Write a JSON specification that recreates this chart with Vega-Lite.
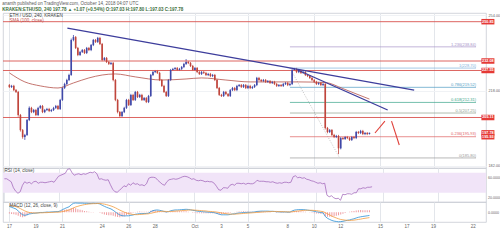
{
"$schema":"https://vega.github.io/schema/vega-lite/v6.json",
"background":"#ffffff",
"padding":{"left":2,"top":0,"right":0,"bottom":0},
"bounds":"flush",
"spacing":0,
"title":{"text":"ananth published on TradingView.com, October 14, 2018 04:07 UTC","subtitle":"KRAKEN:ETHUSD, 240  197.78 ▲ +1.07 (+0.54%) O:197.03 H:197.80 L:197.03 C:197.78","anchor":"start","fontSize":4.5,"fontWeight":"normal","color":"#5a5a5a","subtitleFontSize":4.5,"subtitleColor":"#3b6e3b","subtitleFontWeight":"bold","subtitlePadding":1.2,"offset":1.5},
"datasets":{
"ohlc":[
{"t":"2018-09-17T00:00:00Z","o":220.6,"h":221.1,"l":219.2,"c":219.7,"r":58,"m":3.5,"s":4.2,"hs":-0.7},
{"t":"2018-09-17T04:00:00Z","o":219.7,"h":220.7,"l":219.2,"c":220.2,"r":58,"m":3.0,"s":4.0,"hs":-1.0},
{"t":"2018-09-17T08:00:00Z","o":220.2,"h":220.7,"l":217.7,"c":218.2,"r":55,"m":2.5,"s":3.7,"hs":-1.2},
{"t":"2018-09-17T12:00:00Z","o":218.2,"h":218.7,"l":216.8,"c":217.3,"r":52,"m":2.0,"s":3.4,"hs":-1.4},
{"t":"2018-09-17T16:00:00Z","o":217.3,"h":217.8,"l":205.5,"c":206.3,"r":40,"m":0.8,"s":2.9,"hs":-2.1},
{"t":"2018-09-17T20:00:00Z","o":206.3,"h":206.8,"l":198.4,"c":199.1,"r":33,"m":-0.5,"s":2.2,"hs":-2.7},
{"t":"2018-09-18T00:00:00Z","o":199.1,"h":199.6,"l":195.0,"c":195.8,"r":29,"m":-1.5,"s":1.5,"hs":-3.0},
{"t":"2018-09-18T04:00:00Z","o":195.8,"h":197.3,"l":194.4,"c":196.8,"r":32,"m":-1.8,"s":0.8,"hs":-2.6},
{"t":"2018-09-18T08:00:00Z","o":196.8,"h":204.4,"l":196.3,"c":203.9,"r":45,"m":-1.5,"s":0.3,"hs":-1.8},
{"t":"2018-09-18T12:00:00Z","o":203.9,"h":210.4,"l":203.4,"c":209.7,"r":52,"m":-1.0,"s":-0.1,"hs":-0.9},
{"t":"2018-09-18T16:00:00Z","o":209.7,"h":210.2,"l":207.2,"c":207.7,"r":49,"m":-0.8,"s":-0.3,"hs":-0.5},
{"t":"2018-09-18T20:00:00Z","o":207.7,"h":209.2,"l":207.2,"c":208.7,"r":51,"m":-0.6,"s":-0.4,"hs":-0.2},
{"t":"2018-09-19T00:00:00Z","o":208.7,"h":209.2,"l":205.8,"c":206.3,"r":48,"m":-0.5,"s":-0.4,"hs":-0.1},
{"t":"2018-09-19T04:00:00Z","o":206.3,"h":210.2,"l":205.8,"c":209.7,"r":52,"m":-0.3,"s":-0.4,"hs":0.1},
{"t":"2018-09-19T08:00:00Z","o":209.7,"h":211.1,"l":209.2,"c":210.6,"r":53,"m":-0.1,"s":-0.3,"hs":0.2},
{"t":"2018-09-19T12:00:00Z","o":210.6,"h":211.1,"l":207.2,"c":207.7,"r":49,"m":-0.1,"s":-0.3,"hs":0.2},
{"t":"2018-09-19T16:00:00Z","o":207.7,"h":209.2,"l":207.2,"c":208.7,"r":51,"m":0.0,"s":-0.2,"hs":0.2},
{"t":"2018-09-19T20:00:00Z","o":208.7,"h":209.7,"l":208.2,"c":209.2,"r":51,"m":0.1,"s":-0.2,"hs":0.3},
{"t":"2018-09-20T00:00:00Z","o":209.2,"h":209.7,"l":207.7,"c":208.2,"r":50,"m":0.1,"s":-0.1,"hs":0.2},
{"t":"2018-09-20T04:00:00Z","o":208.2,"h":209.2,"l":207.7,"c":208.7,"r":51,"m":0.2,"s":-0.1,"hs":0.3},
{"t":"2018-09-20T08:00:00Z","o":208.7,"h":210.2,"l":208.2,"c":209.7,"r":52,"m":0.3,"s":0.0,"hs":0.3},
{"t":"2018-09-20T12:00:00Z","o":209.7,"h":211.1,"l":209.2,"c":210.6,"r":53,"m":0.4,"s":0.1,"hs":0.3},
{"t":"2018-09-20T16:00:00Z","o":210.6,"h":211.1,"l":208.7,"c":209.2,"r":51,"m":0.4,"s":0.1,"hs":0.3},
{"t":"2018-09-20T20:00:00Z","o":209.2,"h":214.0,"l":208.7,"c":213.5,"r":57,"m":0.8,"s":0.2,"hs":0.6},
{"t":"2018-09-21T00:00:00Z","o":213.5,"h":219.8,"l":213.0,"c":219.2,"r":63,"m":1.6,"s":0.4,"hs":1.2},
{"t":"2018-09-21T04:00:00Z","o":219.2,"h":221.7,"l":218.7,"c":221.1,"r":65,"m":2.2,"s":0.7,"hs":1.5},
{"t":"2018-09-21T08:00:00Z","o":221.1,"h":223.6,"l":220.6,"c":223.0,"r":67,"m":2.8,"s":1.0,"hs":1.8},
{"t":"2018-09-21T12:00:00Z","o":223.0,"h":226.0,"l":222.5,"c":225.4,"r":69,"m":3.3,"s":1.4,"hs":1.9},
{"t":"2018-09-21T16:00:00Z","o":225.4,"h":242.8,"l":225.0,"c":242.1,"r":77,"m":4.5,"s":2.0,"hs":2.5},
{"t":"2018-09-21T20:00:00Z","o":242.1,"h":244.5,"l":241.5,"c":243.5,"r":78,"m":5.4,"s":2.6,"hs":2.8},
{"t":"2018-09-22T00:00:00Z","o":243.5,"h":244.0,"l":237.8,"c":238.3,"r":70,"m":5.6,"s":3.2,"hs":2.4},
{"t":"2018-09-22T04:00:00Z","o":238.3,"h":238.8,"l":234.4,"c":235.0,"r":65,"m":5.5,"s":3.6,"hs":1.9},
{"t":"2018-09-22T08:00:00Z","o":235.0,"h":236.9,"l":234.5,"c":236.4,"r":67,"m":5.5,"s":4.0,"hs":1.5},
{"t":"2018-09-22T12:00:00Z","o":236.4,"h":237.8,"l":235.9,"c":237.3,"r":68,"m":5.5,"s":4.3,"hs":1.2},
{"t":"2018-09-22T16:00:00Z","o":237.3,"h":237.8,"l":235.4,"c":235.9,"r":66,"m":5.4,"s":4.6,"hs":0.8},
{"t":"2018-09-22T20:00:00Z","o":235.9,"h":238.8,"l":235.4,"c":238.3,"r":68,"m":5.4,"s":4.8,"hs":0.6},
{"t":"2018-09-23T00:00:00Z","o":238.3,"h":238.8,"l":236.8,"c":237.3,"r":67,"m":5.3,"s":5.0,"hs":0.3},
{"t":"2018-09-23T04:00:00Z","o":237.3,"h":240.2,"l":236.8,"c":239.7,"r":69,"m":5.3,"s":5.1,"hs":0.2},
{"t":"2018-09-23T08:00:00Z","o":239.7,"h":242.6,"l":239.2,"c":242.1,"r":71,"m":5.4,"s":5.2,"hs":0.2},
{"t":"2018-09-23T12:00:00Z","o":242.1,"h":242.6,"l":240.7,"c":241.2,"r":70,"m":5.3,"s":5.2,"hs":0.1},
{"t":"2018-09-23T16:00:00Z","o":241.2,"h":243.6,"l":240.7,"c":243.1,"r":72,"m":5.3,"s":5.3,"hs":0.0},
{"t":"2018-09-23T20:00:00Z","o":243.1,"h":243.6,"l":239.7,"c":240.2,"r":68,"m":5.0,"s":5.3,"hs":-0.3},
{"t":"2018-09-24T00:00:00Z","o":240.2,"h":240.7,"l":232.0,"c":232.6,"r":57,"m":4.2,"s":5.1,"hs":-0.9},
{"t":"2018-09-24T04:00:00Z","o":232.6,"h":234.0,"l":232.1,"c":233.5,"r":58,"m":3.6,"s":4.9,"hs":-1.3},
{"t":"2018-09-24T08:00:00Z","o":233.5,"h":234.0,"l":231.1,"c":231.6,"r":56,"m":3.0,"s":4.6,"hs":-1.6},
{"t":"2018-09-24T12:00:00Z","o":231.6,"h":232.1,"l":230.2,"c":230.7,"r":55,"m":2.5,"s":4.2,"hs":-1.7},
{"t":"2018-09-24T16:00:00Z","o":230.7,"h":231.6,"l":230.2,"c":231.1,"r":56,"m":2.0,"s":3.8,"hs":-1.8},
{"t":"2018-09-24T20:00:00Z","o":231.1,"h":231.6,"l":222.4,"c":223.0,"r":46,"m":1.2,"s":3.3,"hs":-2.1},
{"t":"2018-09-25T00:00:00Z","o":223.0,"h":223.5,"l":212.9,"c":213.5,"r":37,"m":0.2,"s":2.7,"hs":-2.5},
{"t":"2018-09-25T04:00:00Z","o":213.5,"h":214.0,"l":207.1,"c":207.7,"r":32,"m":-0.8,"s":2.0,"hs":-2.8},
{"t":"2018-09-25T08:00:00Z","o":207.7,"h":208.2,"l":204.9,"c":205.8,"r":31,"m":-1.6,"s":1.3,"hs":-2.9},
{"t":"2018-09-25T12:00:00Z","o":205.8,"h":208.2,"l":205.3,"c":207.7,"r":35,"m":-2.0,"s":0.7,"hs":-2.7},
{"t":"2018-09-25T16:00:00Z","o":207.7,"h":210.2,"l":207.2,"c":209.7,"r":39,"m":-2.2,"s":0.1,"hs":-2.3},
{"t":"2018-09-25T20:00:00Z","o":209.7,"h":214.0,"l":209.2,"c":213.5,"r":44,"m":-2.1,"s":-0.4,"hs":-1.7},
{"t":"2018-09-26T00:00:00Z","o":213.5,"h":214.0,"l":210.6,"c":211.1,"r":42,"m":-2.1,"s":-0.8,"hs":-1.3},
{"t":"2018-09-26T04:00:00Z","o":211.1,"h":216.4,"l":210.6,"c":215.9,"r":48,"m":-1.8,"s":-1.1,"hs":-0.7},
{"t":"2018-09-26T08:00:00Z","o":215.9,"h":216.4,"l":213.0,"c":213.5,"r":45,"m":-1.6,"s":-1.3,"hs":-0.3},
{"t":"2018-09-26T12:00:00Z","o":213.5,"h":217.8,"l":213.0,"c":217.3,"r":50,"m":-1.2,"s":-1.4,"hs":0.2},
{"t":"2018-09-26T16:00:00Z","o":217.3,"h":217.8,"l":214.4,"c":214.9,"r":47,"m":-1.0,"s":-1.4,"hs":0.4},
{"t":"2018-09-26T20:00:00Z","o":214.9,"h":216.4,"l":214.4,"c":215.9,"r":48,"m":-0.8,"s":-1.3,"hs":0.5},
{"t":"2018-09-27T00:00:00Z","o":215.9,"h":216.4,"l":213.0,"c":213.5,"r":45,"m":-0.8,"s":-1.2,"hs":0.4},
{"t":"2018-09-27T04:00:00Z","o":213.5,"h":214.9,"l":213.0,"c":214.4,"r":46,"m":-0.7,"s":-1.1,"hs":0.4},
{"t":"2018-09-27T08:00:00Z","o":214.4,"h":214.9,"l":212.0,"c":212.5,"r":44,"m":-0.7,"s":-1.0,"hs":0.3},
{"t":"2018-09-27T12:00:00Z","o":212.5,"h":215.9,"l":212.0,"c":215.4,"r":48,"m":-0.5,"s":-0.9,"hs":0.4},
{"t":"2018-09-27T16:00:00Z","o":215.4,"h":225.9,"l":214.9,"c":225.4,"r":59,"m":0.4,"s":-0.6,"hs":1.0},
{"t":"2018-09-27T20:00:00Z","o":225.4,"h":227.3,"l":224.9,"c":226.8,"r":61,"m":1.0,"s":-0.3,"hs":1.3},
{"t":"2018-09-28T00:00:00Z","o":226.8,"h":227.8,"l":226.3,"c":227.3,"r":61,"m":1.3,"s":0.0,"hs":1.3},
{"t":"2018-09-28T04:00:00Z","o":227.3,"h":227.8,"l":225.9,"c":226.4,"r":60,"m":1.4,"s":0.3,"hs":1.1},
{"t":"2018-09-28T08:00:00Z","o":226.4,"h":226.9,"l":222.5,"c":223.0,"r":55,"m":1.2,"s":0.5,"hs":0.7},
{"t":"2018-09-28T12:00:00Z","o":223.0,"h":223.5,"l":219.7,"c":220.2,"r":51,"m":0.9,"s":0.6,"hs":0.3},
{"t":"2018-09-28T16:00:00Z","o":220.2,"h":220.7,"l":216.8,"c":217.3,"r":47,"m":0.5,"s":0.6,"hs":-0.1},
{"t":"2018-09-28T20:00:00Z","o":217.3,"h":217.8,"l":214.9,"c":215.4,"r":45,"m":0.2,"s":0.5,"hs":-0.3},
{"t":"2018-09-29T00:00:00Z","o":215.4,"h":223.5,"l":214.9,"c":223.0,"r":52,"m":0.4,"s":0.4,"hs":0.0},
{"t":"2018-09-29T04:00:00Z","o":223.0,"h":228.3,"l":222.5,"c":227.8,"r":56,"m":0.9,"s":0.5,"hs":0.4},
{"t":"2018-09-29T08:00:00Z","o":227.8,"h":228.8,"l":227.3,"c":228.3,"r":57,"m":1.2,"s":0.6,"hs":0.6},
{"t":"2018-09-29T12:00:00Z","o":228.3,"h":229.2,"l":227.8,"c":228.7,"r":58,"m":1.4,"s":0.7,"hs":0.7},
{"t":"2018-09-29T16:00:00Z","o":228.7,"h":229.2,"l":227.3,"c":227.8,"r":57,"m":1.4,"s":0.8,"hs":0.6},
{"t":"2018-09-29T20:00:00Z","o":227.8,"h":228.8,"l":227.3,"c":228.3,"r":58,"m":1.5,"s":0.9,"hs":0.6},
{"t":"2018-09-30T00:00:00Z","o":228.3,"h":229.7,"l":227.8,"c":229.2,"r":60,"m":1.6,"s":1.0,"hs":0.6},
{"t":"2018-09-30T04:00:00Z","o":229.2,"h":231.2,"l":228.7,"c":230.7,"r":62,"m":1.7,"s":1.1,"hs":0.6},
{"t":"2018-09-30T08:00:00Z","o":230.7,"h":233.0,"l":230.2,"c":231.6,"r":63,"m":1.8,"s":1.2,"hs":0.6},
{"t":"2018-09-30T12:00:00Z","o":231.6,"h":232.1,"l":230.6,"c":231.1,"r":62,"m":1.7,"s":1.3,"hs":0.4},
{"t":"2018-09-30T16:00:00Z","o":231.1,"h":231.6,"l":229.2,"c":229.7,"r":60,"m":1.5,"s":1.4,"hs":0.1},
{"t":"2018-09-30T20:00:00Z","o":229.7,"h":230.2,"l":227.3,"c":227.8,"r":57,"m":1.2,"s":1.4,"hs":-0.2},
{"t":"2018-10-01T00:00:00Z","o":227.8,"h":229.2,"l":227.3,"c":228.7,"r":58,"m":1.0,"s":1.3,"hs":-0.3},
{"t":"2018-10-01T04:00:00Z","o":228.7,"h":229.2,"l":226.3,"c":226.8,"r":55,"m":0.7,"s":1.2,"hs":-0.5},
{"t":"2018-10-01T08:00:00Z","o":226.8,"h":227.3,"l":225.4,"c":225.9,"r":54,"m":0.5,"s":1.1,"hs":-0.6},
{"t":"2018-10-01T12:00:00Z","o":225.9,"h":227.3,"l":225.4,"c":226.8,"r":55,"m":0.4,"s":1.0,"hs":-0.6},
{"t":"2018-10-01T16:00:00Z","o":226.8,"h":227.3,"l":225.9,"c":226.4,"r":54,"m":0.3,"s":0.9,"hs":-0.6},
{"t":"2018-10-01T20:00:00Z","o":226.4,"h":226.9,"l":224.9,"c":225.4,"r":52,"m":0.2,"s":0.8,"hs":-0.6},
{"t":"2018-10-02T00:00:00Z","o":225.4,"h":226.4,"l":224.9,"c":225.9,"r":53,"m":0.1,"s":0.6,"hs":-0.5},
{"t":"2018-10-02T04:00:00Z","o":225.9,"h":226.4,"l":224.4,"c":224.9,"r":52,"m":0.0,"s":0.5,"hs":-0.5},
{"t":"2018-10-02T08:00:00Z","o":224.9,"h":225.9,"l":224.4,"c":225.4,"r":52,"m":-0.1,"s":0.4,"hs":-0.5},
{"t":"2018-10-02T12:00:00Z","o":225.4,"h":225.9,"l":222.5,"c":223.0,"r":49,"m":-0.3,"s":0.3,"hs":-0.6},
{"t":"2018-10-02T16:00:00Z","o":223.0,"h":223.5,"l":218.7,"c":219.2,"r":43,"m":-0.7,"s":0.1,"hs":-0.8},
{"t":"2018-10-02T20:00:00Z","o":219.2,"h":219.7,"l":215.4,"c":215.9,"r":36,"m":-1.2,"s":-0.1,"hs":-1.1},
{"t":"2018-10-03T00:00:00Z","o":215.9,"h":216.4,"l":214.9,"c":215.4,"r":35,"m":-1.5,"s":-0.4,"hs":-1.1},
{"t":"2018-10-03T04:00:00Z","o":215.4,"h":217.8,"l":214.9,"c":217.3,"r":40,"m":-1.5,"s":-0.6,"hs":-0.9},
{"t":"2018-10-03T08:00:00Z","o":217.3,"h":217.8,"l":215.8,"c":216.3,"r":40,"m":-1.5,"s":-0.8,"hs":-0.7},
{"t":"2018-10-03T12:00:00Z","o":216.3,"h":216.8,"l":214.9,"c":215.4,"r":39,"m":-1.5,"s":-1.0,"hs":-0.5},
{"t":"2018-10-03T16:00:00Z","o":215.4,"h":218.7,"l":214.9,"c":218.2,"r":45,"m":-1.3,"s":-1.1,"hs":-0.2},
{"t":"2018-10-03T20:00:00Z","o":218.2,"h":219.7,"l":217.7,"c":219.2,"r":47,"m":-1.0,"s":-1.1,"hs":0.1},
{"t":"2018-10-04T00:00:00Z","o":219.2,"h":219.7,"l":217.7,"c":218.2,"r":45,"m":-0.9,"s":-1.1,"hs":0.2},
{"t":"2018-10-04T04:00:00Z","o":218.2,"h":220.7,"l":217.7,"c":220.2,"r":49,"m":-0.6,"s":-1.0,"hs":0.4},
{"t":"2018-10-04T08:00:00Z","o":220.2,"h":221.1,"l":219.7,"c":220.6,"r":49,"m":-0.4,"s":-0.9,"hs":0.5},
{"t":"2018-10-04T12:00:00Z","o":220.6,"h":221.1,"l":219.2,"c":219.7,"r":48,"m":-0.3,"s":-0.8,"hs":0.5},
{"t":"2018-10-04T16:00:00Z","o":219.7,"h":221.1,"l":219.2,"c":220.6,"r":49,"m":-0.1,"s":-0.7,"hs":0.6},
{"t":"2018-10-04T20:00:00Z","o":220.6,"h":221.1,"l":218.7,"c":219.2,"r":47,"m":-0.1,"s":-0.6,"hs":0.5},
{"t":"2018-10-05T00:00:00Z","o":219.2,"h":220.7,"l":218.7,"c":220.2,"r":49,"m":0.0,"s":-0.5,"hs":0.5},
{"t":"2018-10-05T04:00:00Z","o":220.2,"h":220.7,"l":218.7,"c":219.2,"r":48,"m":0.0,"s":-0.4,"hs":0.4},
{"t":"2018-10-05T08:00:00Z","o":219.2,"h":220.2,"l":218.7,"c":219.7,"r":48,"m":0.1,"s":-0.3,"hs":0.4},
{"t":"2018-10-05T12:00:00Z","o":219.7,"h":221.1,"l":219.2,"c":220.6,"r":50,"m":0.2,"s":-0.2,"hs":0.4},
{"t":"2018-10-05T16:00:00Z","o":220.6,"h":224.5,"l":220.1,"c":224.0,"r":55,"m":0.5,"s":-0.1,"hs":0.6},
{"t":"2018-10-05T20:00:00Z","o":224.0,"h":224.5,"l":222.5,"c":223.0,"r":53,"m":0.6,"s":0.0,"hs":0.6},
{"t":"2018-10-06T00:00:00Z","o":223.0,"h":223.5,"l":222.0,"c":222.5,"r":53,"m":0.7,"s":0.1,"hs":0.6},
{"t":"2018-10-06T04:00:00Z","o":222.5,"h":223.5,"l":222.0,"c":223.0,"r":53,"m":0.7,"s":0.2,"hs":0.5},
{"t":"2018-10-06T08:00:00Z","o":223.0,"h":223.5,"l":221.6,"c":222.1,"r":52,"m":0.7,"s":0.3,"hs":0.4},
{"t":"2018-10-06T12:00:00Z","o":222.1,"h":223.0,"l":221.6,"c":222.5,"r":52,"m":0.7,"s":0.4,"hs":0.3},
{"t":"2018-10-06T16:00:00Z","o":222.5,"h":223.0,"l":221.1,"c":221.6,"r":51,"m":0.6,"s":0.4,"hs":0.2},
{"t":"2018-10-06T20:00:00Z","o":221.6,"h":222.6,"l":221.1,"c":222.1,"r":52,"m":0.6,"s":0.5,"hs":0.1},
{"t":"2018-10-07T00:00:00Z","o":222.1,"h":222.6,"l":220.6,"c":221.1,"r":50,"m":0.5,"s":0.5,"hs":0.0},
{"t":"2018-10-07T04:00:00Z","o":221.1,"h":221.6,"l":219.7,"c":220.2,"r":49,"m":0.3,"s":0.5,"hs":-0.2},
{"t":"2018-10-07T08:00:00Z","o":220.2,"h":221.1,"l":219.7,"c":220.6,"r":50,"m":0.3,"s":0.4,"hs":-0.1},
{"t":"2018-10-07T12:00:00Z","o":220.6,"h":221.1,"l":219.7,"c":220.2,"r":49,"m":0.2,"s":0.4,"hs":-0.2},
{"t":"2018-10-07T16:00:00Z","o":220.2,"h":221.6,"l":219.7,"c":221.1,"r":51,"m":0.2,"s":0.4,"hs":-0.2},
{"t":"2018-10-07T20:00:00Z","o":221.1,"h":222.1,"l":220.6,"c":221.6,"r":51,"m":0.2,"s":0.3,"hs":-0.1},
{"t":"2018-10-08T00:00:00Z","o":221.6,"h":222.1,"l":220.1,"c":220.6,"r":50,"m":0.1,"s":0.3,"hs":-0.2},
{"t":"2018-10-08T04:00:00Z","o":220.6,"h":221.6,"l":220.1,"c":221.1,"r":51,"m":0.1,"s":0.2,"hs":-0.1},
{"t":"2018-10-08T08:00:00Z","o":221.1,"h":228.3,"l":220.6,"c":227.8,"r":62,"m":0.8,"s":0.3,"hs":0.5},
{"t":"2018-10-08T12:00:00Z","o":227.8,"h":228.8,"l":227.3,"c":228.3,"r":64,"m":1.3,"s":0.5,"hs":0.8},
{"t":"2018-10-08T16:00:00Z","o":228.3,"h":228.8,"l":226.3,"c":226.8,"r":60,"m":1.5,"s":0.7,"hs":0.8},
{"t":"2018-10-08T20:00:00Z","o":226.8,"h":227.8,"l":226.3,"c":227.3,"r":61,"m":1.6,"s":0.8,"hs":0.8},
{"t":"2018-10-09T00:00:00Z","o":227.3,"h":227.8,"l":225.9,"c":226.4,"r":59,"m":1.6,"s":1.0,"hs":0.6},
{"t":"2018-10-09T04:00:00Z","o":226.4,"h":227.3,"l":225.9,"c":226.8,"r":60,"m":1.6,"s":1.1,"hs":0.5},
{"t":"2018-10-09T08:00:00Z","o":226.8,"h":227.3,"l":224.9,"c":225.4,"r":57,"m":1.5,"s":1.2,"hs":0.3},
{"t":"2018-10-09T12:00:00Z","o":225.4,"h":225.9,"l":224.4,"c":224.9,"r":56,"m":1.3,"s":1.2,"hs":0.1},
{"t":"2018-10-09T16:00:00Z","o":224.9,"h":225.4,"l":223.5,"c":224.0,"r":54,"m":1.1,"s":1.2,"hs":-0.1},
{"t":"2018-10-09T20:00:00Z","o":224.0,"h":224.5,"l":222.5,"c":223.0,"r":53,"m":0.9,"s":1.2,"hs":-0.3},
{"t":"2018-10-10T00:00:00Z","o":223.0,"h":223.5,"l":221.6,"c":222.1,"r":51,"m":0.6,"s":1.1,"hs":-0.5},
{"t":"2018-10-10T04:00:00Z","o":222.1,"h":222.6,"l":220.6,"c":221.1,"r":49,"m":0.3,"s":1.0,"hs":-0.7},
{"t":"2018-10-10T08:00:00Z","o":221.1,"h":222.1,"l":220.6,"c":221.6,"r":50,"m":0.1,"s":0.8,"hs":-0.7},
{"t":"2018-10-10T12:00:00Z","o":221.6,"h":222.1,"l":220.1,"c":220.6,"r":48,"m":-0.2,"s":0.6,"hs":-0.8},
{"t":"2018-10-10T16:00:00Z","o":220.6,"h":221.6,"l":220.1,"c":221.1,"r":49,"m":-0.3,"s":0.4,"hs":-0.7},
{"t":"2018-10-10T20:00:00Z","o":221.1,"h":221.6,"l":199.4,"c":200.1,"r":25,"m":-2.5,"s":-0.2,"hs":-2.3},
{"t":"2018-10-11T00:00:00Z","o":200.1,"h":200.6,"l":197.6,"c":198.2,"r":22,"m":-3.6,"s":-0.9,"hs":-2.7},
{"t":"2018-10-11T04:00:00Z","o":198.2,"h":199.6,"l":197.7,"c":199.1,"r":24,"m":-4.3,"s":-1.6,"hs":-2.7},
{"t":"2018-10-11T08:00:00Z","o":199.1,"h":199.6,"l":196.3,"c":196.8,"r":20,"m":-4.9,"s":-2.3,"hs":-2.6},
{"t":"2018-10-11T12:00:00Z","o":196.8,"h":197.3,"l":195.3,"c":195.8,"r":18,"m":-5.3,"s":-2.9,"hs":-2.4},
{"t":"2018-10-11T16:00:00Z","o":195.8,"h":196.8,"l":195.3,"c":196.3,"r":19,"m":-5.5,"s":-3.4,"hs":-2.1},
{"t":"2018-10-11T20:00:00Z","o":196.3,"h":196.8,"l":187.6,"c":190.4,"r":15,"m":-5.7,"s":-3.9,"hs":-1.8},
{"t":"2018-10-12T00:00:00Z","o":190.4,"h":195.8,"l":189.9,"c":195.3,"r":27,"m":-5.6,"s":-4.3,"hs":-1.3},
{"t":"2018-10-12T04:00:00Z","o":195.3,"h":195.8,"l":194.4,"c":194.9,"r":26,"m":-5.4,"s":-4.5,"hs":-0.9},
{"t":"2018-10-12T08:00:00Z","o":194.9,"h":196.3,"l":194.4,"c":195.8,"r":28,"m":-5.1,"s":-4.7,"hs":-0.4},
{"t":"2018-10-12T12:00:00Z","o":195.8,"h":196.3,"l":194.8,"c":195.3,"r":28,"m":-4.8,"s":-4.8,"hs":0.0},
{"t":"2018-10-12T16:00:00Z","o":195.3,"h":195.8,"l":193.9,"c":194.4,"r":27,"m":-4.6,"s":-4.9,"hs":0.3},
{"t":"2018-10-12T20:00:00Z","o":194.4,"h":196.3,"l":193.9,"c":195.8,"r":30,"m":-4.2,"s":-4.8,"hs":0.6},
{"t":"2018-10-13T00:00:00Z","o":195.8,"h":196.3,"l":194.8,"c":195.3,"r":30,"m":-3.9,"s":-4.7,"hs":0.8},
{"t":"2018-10-13T04:00:00Z","o":195.3,"h":198.7,"l":194.8,"c":198.2,"r":38,"m":-3.4,"s":-4.5,"hs":1.1},
{"t":"2018-10-13T08:00:00Z","o":198.2,"h":198.7,"l":197.2,"c":197.7,"r":38,"m":-3.0,"s":-4.3,"hs":1.3},
{"t":"2018-10-13T12:00:00Z","o":197.7,"h":199.2,"l":197.2,"c":198.7,"r":40,"m":-2.7,"s":-4.1,"hs":1.4},
{"t":"2018-10-13T16:00:00Z","o":198.7,"h":199.2,"l":196.7,"c":197.2,"r":39,"m":-2.5,"s":-3.8,"hs":1.3},
{"t":"2018-10-13T20:00:00Z","o":197.2,"h":198.2,"l":196.7,"c":197.7,"r":41,"m":-2.3,"s":-3.6,"hs":1.3},
{"t":"2018-10-14T00:00:00Z","o":197.7,"h":198.2,"l":196.7,"c":197.2,"r":41,"m":-2.1,"s":-3.4,"hs":1.3},
{"t":"2018-10-14T04:00:00Z","o":197.2,"h":197.9,"l":197.0,"c":197.8,"r":42,"m":-1.9,"s":-3.2,"hs":1.3}
],
"sma":[
{"t":"2018-09-17 00","p":226.4},{"t":"2018-09-18 04","p":222.1},{"t":"2018-09-19 08","p":220.2},{"t":"2018-09-20 16","p":219.2},{"t":"2018-09-21 20","p":221.6},{"t":"2018-09-23 00","p":224.0},{"t":"2018-09-24 00","p":225.4},{"t":"2018-09-25 00","p":225.9},{"t":"2018-09-26 12","p":224.5},{"t":"2018-09-28 12","p":223.0},{"t":"2018-09-30 08","p":223.5},{"t":"2018-10-01 12","p":224.0},{"t":"2018-10-03 08","p":223.0},{"t":"2018-10-05 04","p":222.1},{"t":"2018-10-07 00","p":222.1},{"t":"2018-10-08 20","p":222.1},{"t":"2018-10-10 20","p":221.8},{"t":"2018-10-12 04","p":218.9},{"t":"2018-10-13 00","p":216.8},{"t":"2018-10-14 04","p":213.9}
],
"hl":[{"p":250.85},{"p":232.08},{"p":227.55},{"p":205.11}],
"fib":[
{"lv":"1.236","p":238.84,"lab":"1.236(238.84)"},
{"lv":"1","p":228.7,"lab":"1(228.70)"},
{"lv":"0.786","p":219.52,"lab":"0.786(219.52)"},
{"lv":"0.618","p":212.31,"lab":"0.618(212.31)"},
{"lv":"0.5","p":207.25,"lab":"0.5(207.25)"},
{"lv":"0.236","p":195.93,"lab":"0.236(195.93)"},
{"lv":"0","p":185.8,"lab":"0(185.80)"}
],
"tr":[
{"t1":"2018-09-21 09","p1":247.8,"t2":"2018-10-17 13","p2":218.2},
{"t1":"2018-10-08 18","p1":227.8,"t2":"2018-10-15 13","p2":208.7}
],
"pr":[
{"t1":"2018-10-14 14","p1":197.7,"t2":"2018-10-15 08","p2":203.4},
{"t1":"2018-10-15 20","p1":203.4,"t2":"2018-10-16 10","p2":192.0}
],
"ft":[{"t1":"2018-10-08 04","p1":228.7,"t2":"2018-10-11 22","p2":185.8}],
"px":[{"p":250.85},{"p":232.08},{"p":227.55},{"p":205.11},{"p":197.78},{"p":195.93}],
"days":[
{"d":"2018-09-17T00:00:00Z","lab":"17"},{"d":"2018-09-19T00:00:00Z","lab":"19"},{"d":"2018-09-21T00:00:00Z","lab":"21"},{"d":"2018-09-24T00:00:00Z","lab":"24"},{"d":"2018-09-26T00:00:00Z","lab":"26"},{"d":"2018-09-28T00:00:00Z","lab":"28"},{"d":"2018-10-01T00:00:00Z","lab":"Oct"},{"d":"2018-10-03T00:00:00Z","lab":"3"},{"d":"2018-10-05T00:00:00Z","lab":"5"},{"d":"2018-10-08T00:00:00Z","lab":"8"},{"d":"2018-10-10T00:00:00Z","lab":"10"},{"d":"2018-10-12T00:00:00Z","lab":"12"},{"d":"2018-10-15T00:00:00Z","lab":"15"},{"d":"2018-10-17T00:00:00Z","lab":"17"},{"d":"2018-10-19T00:00:00Z","lab":"19"},{"d":"2018-10-22T00:00:00Z","lab":"22"}
]
},
"vconcat":[
{
"width":483,"height":155,
"layer":[
{"data":{"name":"ohlc","format":{"parse":{"t":"date"}}},
 "mark":{"type":"rule","strokeWidth":0.8},
 "encoding":{
  "x":{"field":"t","type":"temporal","scale":{"type":"utc","domain":[{"year":2018,"month":9,"date":16,"hours":21,"minutes":30,"utc":true},{"year":2018,"month":10,"date":22,"hours":14,"utc":true}]},
   "axis":{"values":[{"year":2018,"month":9,"date":17,"utc":true},{"year":2018,"month":9,"date":19,"utc":true},{"year":2018,"month":9,"date":21,"utc":true},{"year":2018,"month":9,"date":24,"utc":true},{"year":2018,"month":9,"date":26,"utc":true},{"year":2018,"month":9,"date":28,"utc":true},{"year":2018,"month":10,"date":1,"utc":true},{"year":2018,"month":10,"date":3,"utc":true},{"year":2018,"month":10,"date":5,"utc":true},{"year":2018,"month":10,"date":8,"utc":true},{"year":2018,"month":10,"date":10,"utc":true},{"year":2018,"month":10,"date":12,"utc":true},{"year":2018,"month":10,"date":15,"utc":true},{"year":2018,"month":10,"date":17,"utc":true},{"year":2018,"month":10,"date":19,"utc":true},{"year":2018,"month":10,"date":22,"utc":true}],"labels":false,"ticks":false,"domain":false,"grid":true,"gridColor":"#e3e6eb","title":null}},
  "y":{"field":"l","type":"quantitative","scale":{"domain":[181,255],"nice":false,"zero":false},
   "axis":{"orient":"right","values":[182,185,188,191,200,209,212,215,218,221,224,236,239,242,245,248,254],"format":".2f","grid":true,"gridColor":"#f0f2f5","domain":false,"ticks":false,"labelFontSize":3.8,"labelColor":"#666","labelPadding":2,"title":null}},
  "y2":{"field":"h"},
  "color":{"condition":{"test":"datum.c >= datum.o","value":"#3f48a8"},"value":"#c0453c"}}},
{"data":{"name":"hl"},
 "mark":{"type":"rule","color":"#d9534f","strokeWidth":0.9},
 "encoding":{"y":{"field":"p","type":"quantitative","scale":{"domain":[181,255],"nice":false,"zero":false},"title":null}}},
{"data":{"name":"fib"},
 "mark":{"type":"rule","strokeWidth":0.7},
 "encoding":{
  "x":{"datum":{"year":2018,"month":10,"date":8,"hours":4,"utc":true},"type":"temporal","scale":{"type":"utc","domain":[{"year":2018,"month":9,"date":16,"hours":21,"minutes":30,"utc":true},{"year":2018,"month":10,"date":22,"hours":14,"utc":true}]},"title":null},
  "x2":{"datum":{"year":2018,"month":10,"date":22,"hours":5,"utc":true}},
  "y":{"field":"p","type":"quantitative","scale":{"domain":[181,255],"nice":false,"zero":false},"title":null},
  "color":{"field":"lv","type":"nominal","scale":{"domain":["1.236","1","0.786","0.618","0.5","0.236","0"],"range":["#a893c9","#7fb2dc","#4f9cc4","#3aa58a","#8fa08f","#e06060","#9a9a9a"]},"legend":null}}},
{"data":{"name":"fib"},
 "mark":{"type":"text","align":"right","baseline":"bottom","fontSize":4,"dy":-0.3},
 "encoding":{
  "x":{"datum":{"year":2018,"month":10,"date":22,"hours":5,"utc":true},"type":"temporal","scale":{"type":"utc","domain":[{"year":2018,"month":9,"date":16,"hours":21,"minutes":30,"utc":true},{"year":2018,"month":10,"date":22,"hours":14,"utc":true}]},"title":null},
  "y":{"field":"p","type":"quantitative","scale":{"domain":[181,255],"nice":false,"zero":false},"title":null},
  "text":{"field":"lab"},
  "color":{"field":"lv","type":"nominal","scale":{"domain":["1.236","1","0.786","0.618","0.5","0.236","0"],"range":["#a893c9","#7fb2dc","#4f9cc4","#3aa58a","#8fa08f","#e06060","#9a9a9a"]},"legend":null}}},
{"data":{"name":"ft","format":{"parse":{"t1":"utc:'%Y-%m-%d %H'","t2":"utc:'%Y-%m-%d %H'"}}},
 "mark":{"type":"rule","color":"#9a9a9a","strokeWidth":0.6,"strokeDash":[1,1.5]},
 "encoding":{
  "x":{"field":"t1","type":"temporal","scale":{"type":"utc","domain":[{"year":2018,"month":9,"date":16,"hours":21,"minutes":30,"utc":true},{"year":2018,"month":10,"date":22,"hours":14,"utc":true}]},"title":null},
  "x2":{"field":"t2"},
  "y":{"field":"p1","type":"quantitative","scale":{"domain":[181,255],"nice":false,"zero":false},"title":null},
  "y2":{"field":"p2"}}},
{"data":{"name":"sma","format":{"parse":{"t":"utc:'%Y-%m-%d %H'"}}},
 "mark":{"type":"line","color":"#b5524a","strokeWidth":0.8,"interpolate":"monotone"},
 "encoding":{
  "x":{"field":"t","type":"temporal","scale":{"type":"utc","domain":[{"year":2018,"month":9,"date":16,"hours":21,"minutes":30,"utc":true},{"year":2018,"month":10,"date":22,"hours":14,"utc":true}]},"title":null},
  "y":{"field":"p","type":"quantitative","scale":{"domain":[181,255],"nice":false,"zero":false},"title":null}}},
{"data":{"name":"ohlc","format":{"parse":{"t":"date"}}},
 "mark":{"type":"bar","width":1.6},
 "encoding":{
  "x":{"field":"t","type":"temporal","scale":{"type":"utc","domain":[{"year":2018,"month":9,"date":16,"hours":21,"minutes":30,"utc":true},{"year":2018,"month":10,"date":22,"hours":14,"utc":true}]},"title":null},
  "y":{"field":"o","type":"quantitative","scale":{"domain":[181,255],"nice":false,"zero":false},"title":null},
  "y2":{"field":"c"},
  "color":{"condition":{"test":"datum.c >= datum.o","value":"#3f48a8"},"value":"#c0453c"}}},
{"data":{"name":"tr","format":{"parse":{"t1":"utc:'%Y-%m-%d %H'","t2":"utc:'%Y-%m-%d %H'"}}},
 "mark":{"type":"rule","color":"#3d3d9c","strokeWidth":1.3},
 "encoding":{
  "x":{"field":"t1","type":"temporal","scale":{"type":"utc","domain":[{"year":2018,"month":9,"date":16,"hours":21,"minutes":30,"utc":true},{"year":2018,"month":10,"date":22,"hours":14,"utc":true}]},"title":null},
  "x2":{"field":"t2"},
  "y":{"field":"p1","type":"quantitative","scale":{"domain":[181,255],"nice":false,"zero":false},"title":null},
  "y2":{"field":"p2"}}},
{"data":{"name":"pr","format":{"parse":{"t1":"utc:'%Y-%m-%d %H'","t2":"utc:'%Y-%m-%d %H'"}}},
 "mark":{"type":"rule","color":"#e0413a","strokeWidth":1.1},
 "encoding":{
  "x":{"field":"t1","type":"temporal","scale":{"type":"utc","domain":[{"year":2018,"month":9,"date":16,"hours":21,"minutes":30,"utc":true},{"year":2018,"month":10,"date":22,"hours":14,"utc":true}]},"title":null},
  "x2":{"field":"t2"},
  "y":{"field":"p1","type":"quantitative","scale":{"domain":[181,255],"nice":false,"zero":false},"title":null},
  "y2":{"field":"p2"}}},
{"data":{"name":"px"},
 "mark":{"type":"tick","orient":"horizontal","size":13,"thickness":5.5,"color":"#e53935","opacity":1},
 "encoding":{
  "x":{"datum":{"year":2018,"month":10,"date":23,"hours":2,"minutes":30,"utc":true},"type":"temporal","scale":{"type":"utc","domain":[{"year":2018,"month":9,"date":16,"hours":21,"minutes":30,"utc":true},{"year":2018,"month":10,"date":22,"hours":14,"utc":true}]},"title":null},
  "y":{"field":"p","type":"quantitative","scale":{"domain":[181,255],"nice":false,"zero":false},"title":null}}},
{"data":{"name":"px"},
 "mark":{"type":"text","color":"#ffffff","fontSize":3.8,"fontWeight":"bold","align":"center","baseline":"middle"},
 "encoding":{
  "x":{"datum":{"year":2018,"month":10,"date":23,"hours":2,"minutes":30,"utc":true},"type":"temporal","scale":{"type":"utc","domain":[{"year":2018,"month":9,"date":16,"hours":21,"minutes":30,"utc":true},{"year":2018,"month":10,"date":22,"hours":14,"utc":true}]},"title":null},
  "y":{"field":"p","type":"quantitative","scale":{"domain":[181,255],"nice":false,"zero":false},"title":null},
  "text":{"field":"p","format":".2f"}}},
{"data":{"values":[{"s":"ETH / USD, 240, KRAKEN"}]},
 "mark":{"type":"text","align":"left","baseline":"middle","fontSize":4.5,"color":"#444"},
 "encoding":{
  "x":{"datum":{"year":2018,"month":9,"date":17,"hours":0,"utc":true},"type":"temporal","scale":{"type":"utc","domain":[{"year":2018,"month":9,"date":16,"hours":21,"minutes":30,"utc":true},{"year":2018,"month":10,"date":22,"hours":14,"utc":true}]},"title":null},
  "y":{"datum":253.6,"type":"quantitative","scale":{"domain":[181,255],"nice":false,"zero":false},"title":null},
  "text":{"field":"s"}}},
{"data":{"values":[{"s":"SMA (100, close)"}]},
 "mark":{"type":"text","align":"left","baseline":"middle","fontSize":4.5,"color":"#c0504d"},
 "encoding":{
  "x":{"datum":{"year":2018,"month":9,"date":17,"hours":0,"utc":true},"type":"temporal","scale":{"type":"utc","domain":[{"year":2018,"month":9,"date":16,"hours":21,"minutes":30,"utc":true},{"year":2018,"month":10,"date":22,"hours":14,"utc":true}]},"title":null},
  "y":{"datum":251.2,"type":"quantitative","scale":{"domain":[181,255],"nice":false,"zero":false},"title":null},
  "text":{"field":"s"}}}
]
},
{
"width":483,"height":34,
"layer":[
{"data":{"values":[{"a":1}]},
 "mark":{"type":"rect","color":"#f1e4f8"},
 "encoding":{"y":{"datum":30,"type":"quantitative","scale":{"domain":[11.5,79.5],"nice":false,"zero":false},"title":null},"y2":{"datum":70}}},
{"data":{"name":"ohlc","format":{"parse":{"t":"date"}}},
 "mark":{"type":"line","color":"#9b5cb4","strokeWidth":0.7},
 "encoding":{
  "x":{"field":"t","type":"temporal","scale":{"type":"utc","domain":[{"year":2018,"month":9,"date":16,"hours":21,"minutes":30,"utc":true},{"year":2018,"month":10,"date":22,"hours":14,"utc":true}]},
   "axis":{"values":[{"year":2018,"month":9,"date":17,"utc":true},{"year":2018,"month":9,"date":19,"utc":true},{"year":2018,"month":9,"date":21,"utc":true},{"year":2018,"month":9,"date":24,"utc":true},{"year":2018,"month":9,"date":26,"utc":true},{"year":2018,"month":9,"date":28,"utc":true},{"year":2018,"month":10,"date":1,"utc":true},{"year":2018,"month":10,"date":3,"utc":true},{"year":2018,"month":10,"date":5,"utc":true},{"year":2018,"month":10,"date":8,"utc":true},{"year":2018,"month":10,"date":10,"utc":true},{"year":2018,"month":10,"date":12,"utc":true},{"year":2018,"month":10,"date":15,"utc":true},{"year":2018,"month":10,"date":17,"utc":true},{"year":2018,"month":10,"date":19,"utc":true},{"year":2018,"month":10,"date":22,"utc":true}],"labels":false,"ticks":false,"domain":false,"grid":true,"gridColor":"#e3e6eb","title":null}},
  "y":{"field":"r","type":"quantitative","scale":{"domain":[11.5,79.5],"nice":false,"zero":false},
   "axis":{"orient":"right","values":[20,40,60],"format":".4f","grid":false,"domain":false,"ticks":false,"labelFontSize":3.6,"labelColor":"#666","labelPadding":1.5,"title":null}}}},
{"data":{"values":[{"s":"RSI (14, close)"}]},
 "mark":{"type":"text","align":"left","baseline":"middle","fontSize":4.5,"color":"#444"},
 "encoding":{
  "x":{"datum":{"year":2018,"month":9,"date":17,"hours":0,"utc":true},"type":"temporal","scale":{"type":"utc","domain":[{"year":2018,"month":9,"date":16,"hours":21,"minutes":30,"utc":true},{"year":2018,"month":10,"date":22,"hours":14,"utc":true}]},"title":null},
  "y":{"datum":73,"type":"quantitative","scale":{"domain":[11.5,79.5],"nice":false,"zero":false},"title":null},
  "text":{"field":"s"}}}
]
},
{
"width":483,"height":20,
"layer":[
{"data":{"name":"ohlc","format":{"parse":{"t":"date"}}},
 "mark":{"type":"bar","width":1,"color":"#ec8a8f","opacity":0.85},
 "encoding":{
  "x":{"field":"t","type":"temporal","scale":{"type":"utc","domain":[{"year":2018,"month":9,"date":16,"hours":21,"minutes":30,"utc":true},{"year":2018,"month":10,"date":22,"hours":14,"utc":true}]},
   "axis":{"values":[{"year":2018,"month":9,"date":17,"utc":true},{"year":2018,"month":9,"date":19,"utc":true},{"year":2018,"month":9,"date":21,"utc":true},{"year":2018,"month":9,"date":24,"utc":true},{"year":2018,"month":9,"date":26,"utc":true},{"year":2018,"month":9,"date":28,"utc":true},{"year":2018,"month":10,"date":1,"utc":true},{"year":2018,"month":10,"date":3,"utc":true},{"year":2018,"month":10,"date":5,"utc":true},{"year":2018,"month":10,"date":8,"utc":true},{"year":2018,"month":10,"date":10,"utc":true},{"year":2018,"month":10,"date":12,"utc":true},{"year":2018,"month":10,"date":15,"utc":true},{"year":2018,"month":10,"date":17,"utc":true},{"year":2018,"month":10,"date":19,"utc":true},{"year":2018,"month":10,"date":22,"utc":true}],
   "labels":false,"ticks":false,"domain":false,"grid":true,"gridColor":"#e3e6eb",
   "title":"Created with TradingView","titleAnchor":"start","titleAlign":"left","titleFontSize":4.5,"titleFontWeight":"normal","titleColor":"#222","titlePadding":7.5}},
  "y":{"field":"hs","type":"quantitative","scale":{"domain":[-5.82,6.18],"nice":false,"zero":false},
   "axis":{"orient":"right","values":[0],"format":".4f","grid":false,"domain":false,"ticks":false,"labelFontSize":3.6,"labelColor":"#666","labelPadding":1.5,"title":null}},
  "y2":{"datum":0}}},
{"data":{"name":"ohlc","format":{"parse":{"t":"date"}}},
 "mark":{"type":"line","color":"#2a8fd6","strokeWidth":0.8},
 "encoding":{
  "x":{"field":"t","type":"temporal","scale":{"type":"utc","domain":[{"year":2018,"month":9,"date":16,"hours":21,"minutes":30,"utc":true},{"year":2018,"month":10,"date":22,"hours":14,"utc":true}]},"title":null},
  "y":{"field":"m","type":"quantitative","scale":{"domain":[-5.82,6.18],"nice":false,"zero":false},"title":null}}},
{"data":{"name":"ohlc","format":{"parse":{"t":"date"}}},
 "mark":{"type":"line","color":"#f39c3f","strokeWidth":0.8},
 "encoding":{
  "x":{"field":"t","type":"temporal","scale":{"type":"utc","domain":[{"year":2018,"month":9,"date":16,"hours":21,"minutes":30,"utc":true},{"year":2018,"month":10,"date":22,"hours":14,"utc":true}]},"title":null},
  "y":{"field":"s","type":"quantitative","scale":{"domain":[-5.82,6.18],"nice":false,"zero":false},"title":null}}},
{"data":{"name":"days","format":{"parse":{"d":"date"}}},
 "mark":{"type":"text","align":"center","baseline":"top","fontSize":4.5,"color":"#666","dy":2},
 "encoding":{
  "x":{"field":"d","type":"temporal","scale":{"type":"utc","domain":[{"year":2018,"month":9,"date":16,"hours":21,"minutes":30,"utc":true},{"year":2018,"month":10,"date":22,"hours":14,"utc":true}]},"title":null},
  "y":{"datum":-5.82,"type":"quantitative","scale":{"domain":[-5.82,6.18],"nice":false,"zero":false},"title":null},
  "text":{"field":"lab"}}},
{"data":{"values":[{"s":"MACD (12, 26, close, 9)"}]},
 "mark":{"type":"text","align":"left","baseline":"middle","fontSize":4.5,"color":"#444"},
 "encoding":{
  "x":{"datum":{"year":2018,"month":9,"date":17,"hours":0,"utc":true},"type":"temporal","scale":{"type":"utc","domain":[{"year":2018,"month":9,"date":16,"hours":21,"minutes":30,"utc":true},{"year":2018,"month":10,"date":22,"hours":14,"utc":true}]},"title":null},
  "y":{"datum":4.0,"type":"quantitative","scale":{"domain":[-5.82,6.18],"nice":false,"zero":false},"title":null},
  "text":{"field":"s"}}}
]
}
],
"config":{"font":"Liberation Sans","view":{"stroke":"#c8ccd3","strokeWidth":0.8},"axis":{"labelFont":"Liberation Sans","titleFont":"Liberation Sans"},"axisX":{"labelOverlap":false},"title":{"font":"Liberation Sans","subtitleFont":"Liberation Sans"}}
}
